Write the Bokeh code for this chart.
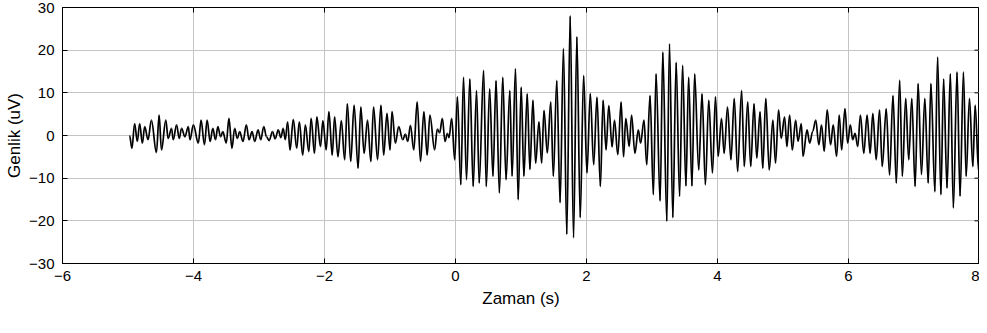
import numpy as np
from bokeh.plotting import figure
from bokeh.models import Range1d, FixedTicker, ColumnDataSource
from bokeh.embed import file_html
from bokeh.resources import INLINE

t_s = [
    -4.976, -4.940, -4.899, -4.858, -4.822, -4.781, -4.745, -4.694, -4.643, -4.566,
    -4.525, -4.489, -4.423, -4.387, -4.335, -4.310, -4.258, -4.218, -4.182, -4.131,
    -4.079, -4.054, -4.002,
    -3.926, -3.885, -3.833, -3.792, -3.746, -3.705, -3.664, -3.628, -3.587, -3.552,
    -3.500, -3.459, -3.413, -3.372, -3.331, -3.295, -3.244, -3.193, -3.152, -3.106,
    -3.065, -3.014, -2.973, -2.927, -2.886,
    -2.845, -2.794, -2.753, -2.706, -2.666, -2.630, -2.599, -2.563, -2.527, -2.476,
    -2.425, -2.384, -2.333, -2.292, -2.240, -2.204, -2.153, -2.117, -2.061, -2.025,
    -1.974, -1.933, -1.882, -1.846, -1.795,
    -1.743, -1.692, -1.651, -1.600, -1.548, -1.487, -1.446, -1.395, -1.343, -1.292,
    -1.251, -1.190, -1.138, -1.097, -1.046, -1.000, -0.969, -0.918, -0.867, -0.806,
    -0.765, -0.729,
    -0.688, -0.637, -0.585, -0.534, -0.483, -0.432, -0.391, -0.319, -0.278, -0.242,
    -0.201, -0.160, -0.124, -0.099, -0.058, -0.012,
    0.029, 0.081, 0.122, 0.168, 0.219, 0.270, 0.321, 0.362,
    0.429, 0.470, 0.521, 0.572, 0.619, 0.670, 0.721, 0.772, 0.829, 0.864,
    0.916, 0.957, 1.003, 1.044, 1.095, 1.136, 1.182, 1.223, 1.274, 1.315,
    1.351, 1.402, 1.454, 1.494,
    1.546, 1.597, 1.648, 1.699, 1.751, 1.802, 1.853, 1.904, 1.956, 2.007,
    2.058, 2.109, 2.160, 2.212, 2.253, 2.299, 2.340, 2.391, 2.427, 2.478,
    2.529, 2.565,
    2.600, 2.652, 2.688, 2.739, 2.791, 2.826, 2.878, 2.919, 2.970, 3.021,
    3.062, 3.124, 3.165, 3.226, 3.267, 3.318, 3.369, 3.421, 3.467, 3.518,
    3.559, 3.610, 3.651,
    3.713, 3.764, 3.815, 3.866, 3.923, 3.969, 4.010, 4.061, 4.102, 4.153,
    4.205, 4.256, 4.307, 4.368, 4.409, 4.461, 4.507, 4.558, 4.599, 4.650,
    4.691, 4.737, 4.790,
    4.845, 4.886, 4.932, 4.973, 5.024, 5.060, 5.101, 5.142, 5.193, 5.229,
    5.280, 5.306, 5.367, 5.408, 5.454, 5.500, 5.547, 5.588, 5.629, 5.675,
    5.726, 5.767, 5.818, 5.859,
    5.895, 5.946, 5.987, 6.028, 6.064, 6.100, 6.141, 6.182, 6.233, 6.284,
    6.330, 6.371, 6.423, 6.474, 6.515, 6.576, 6.627, 6.679, 6.730, 6.781,
    6.822, 6.873, 6.919,
    6.966, 7.017, 7.063, 7.114, 7.165, 7.217, 7.258, 7.319, 7.360, 7.411,
    7.452, 7.504, 7.555, 7.601, 7.657, 7.703, 7.755, 7.796, 7.847, 7.898,
    7.934, 7.985, 8.000,
]
amp_uv = [
    0.0, -3.0, 2.8, -1.4, 2.8, -1.8, 2.1, -1.0, 3.6, -4.0,
    4.8, -3.4, 3.6, -0.7, 1.7, -1.0, 2.5, -0.7, 1.7, -0.3,
    2.1, -1.0, 2.5,
    -1.8, 3.6, -2.2, 3.6, -1.4, 1.7, -1.0, 2.1, -0.3, 0.9,
    -1.8, 4.0, -3.0, 1.7, -0.7, 0.9, -1.4, 2.5, -1.0, 0.9,
    -1.4, 1.3, -1.0, 2.1, -0.3,
    -1.2, 0.9, -0.8, 1.3, -0.5, 1.7, -1.0, 3.2, -3.4, 3.8,
    -3.0, 3.2, -4.6, 2.5, -3.8, 4.0, -4.2, 4.4, -2.6, 3.5,
    -3.4, 5.6, -4.6, 4.4, -5.0,
    3.5, -5.7, 7.5, -6.1, 7.1, -7.7, 6.7, -4.2, 3.6, -6.1,
    6.7, -5.7, 7.1, -4.6, 5.2, -3.4, 5.6, -1.8, 2.1, -1.0,
    0.3, -1.4,
    2.4, -3.4, 7.9, -6.1, 5.6, -4.6, 4.8, -3.4, 1.5, 0.6,
    4.0, -1.4, 0.5, -0.5, 4.0, -5.7,
    9.1, -11.6, 13.7, -10.4, 13.3, -12.0, 10.6, -11.2,
    15.3, -12.0, 11.0, -9.6, 12.9, -13.5, 13.7, -10.4, 10.6, -9.6,
    15.7, -15.1, 11.4, -9.6, 9.8, -8.0, 8.3, -6.5, 3.2, -6.5,
    5.9, -4.1, 7.9, -9.6,
    12.9, -15.8, 20.4, -23.2, 28.1, -24.0, 23.2, -19.3, 14.1, -8.8,
    9.9, -6.9, 9.0, -12.0, 8.3, -3.4, 7.0, -2.7, 3.6, -4.5,
    7.9, -5.0,
    4.0, -2.6, 4.8, -4.2, 1.3, -1.8, 3.6, -6.9, 9.4, -13.9,
    14.5, -15.4, 19.6, -20.1, 21.5, -19.3, 17.2, -14.3, 16.5, -11.9,
    13.7, -11.9, 14.5,
    -8.1, 9.8, -11.6, 8.3, -8.8, 9.1, -4.9, 4.0, -4.2, 6.7,
    -5.7, 8.7, -8.5, 10.6, -7.3, 7.9, -7.3, 7.5, -5.3, 5.6,
    -7.7, 8.7, -8.1,
    3.6, -6.5, 6.0, -0.7, 4.4, -2.6, 4.8, -3.4, 3.6, -1.4,
    2.8, -4.9, 1.3, -1.8, 1.0, 3.6, -2.2, 2.5, -3.7, 6.0,
    -2.2, 2.5, -4.9, 4.8,
    -3.4, 6.3, -1.8, 2.5, -1.0, 0.5, -2.6, 4.8, -4.2, 4.8,
    -4.2, 5.2, -5.7, 6.0, -7.3, 6.3, -9.3, 9.4, -11.2, 13.0,
    -9.6, 8.7, -5.7,
    8.7, -12.0, 12.2, -9.2, 8.7, -11.2, 12.2, -13.2, 18.4, -13.9,
    13.3, -12.4, 14.5, -17.0, 14.9, -14.3, 14.9, -9.6, 8.7, -7.3,
    7.1, -8.1, -6.0,
]

x_ticks = [-6, -4, -2, 0, 2, 4, 6, 8]
y_ticks = [-30, -20, -10, 0, 10, 20, 30]
x_title = "Zaman (s)"
y_title = "Genlik (uV)"

FONT = "Liberation Sans"
X0, X1, Y0, Y1 = -6, 8, -30, 30

p = figure(width=979, height=310, output_backend="svg", toolbar_location=None,
           x_range=Range1d(X0, X1), y_range=Range1d(Y0, Y1),
           min_border_left=62, min_border_right=0, min_border_top=7, min_border_bottom=10)
p.background_fill_color = "white"
p.border_fill_color = "white"
p.outline_line_color = "black"
p.outline_line_width = 1

# smooth trace: cubic segments between successive extrema (horizontal tangents)
t = np.asarray(t_s, dtype=float)
a = np.asarray(amp_uv, dtype=float)
dt = np.diff(t)
src = ColumnDataSource(dict(
    x0=t[:-1], y0=a[:-1], x1=t[1:], y1=a[1:],
    cx0=t[:-1] + 0.36 * dt, cy0=a[:-1],
    cx1=t[1:] - 0.36 * dt, cy1=a[1:],
))
p.bezier(x0="x0", y0="y0", x1="x1", y1="y1", cx0="cx0", cy0="cy0", cx1="cx1", cy1="cy1",
         source=src, line_color="black", line_width=1.7)

for ax, ticks in ((p.xaxis[0], x_ticks), (p.yaxis[0], y_ticks)):
    ax.ticker = FixedTicker(ticks=ticks)
    ax.major_tick_in = 5
    ax.major_tick_out = 0
    ax.minor_tick_line_color = None
    ax.axis_line_color = "black"
    ax.major_tick_line_color = "black"
    ax.major_label_text_font = FONT
    ax.major_label_text_font_size = "15px"
    ax.major_label_text_color = "black"
    ax.axis_label_text_font = FONT
    ax.axis_label_text_font_size = "17px"
    ax.axis_label_text_font_style = "normal"
    ax.axis_label_text_color = "black"

p.xaxis[0].axis_label = x_title
p.yaxis[0].axis_label = y_title
p.xaxis[0].major_label_standoff = 7
p.xaxis[0].axis_label_standoff = 5
p.yaxis[0].major_label_standoff = 8
p.yaxis[0].axis_label_standoff = 2

# mirrored inward ticks on the top and right edges of the frame
tick_dx = (X1 - X0) * 5 / 911.0
tick_dy = (Y1 - Y0) * 5 / 257.0
p.segment(x0=[X1] * len(y_ticks), y0=y_ticks, x1=[X1 - tick_dx] * len(y_ticks), y1=y_ticks,
          line_color="black", line_width=1)
p.segment(x0=x_ticks, y0=[Y1] * len(x_ticks), x1=x_ticks, y1=[Y1 - tick_dy] * len(x_ticks),
          line_color="black", line_width=1)

p.xgrid.ticker = FixedTicker(ticks=x_ticks)
p.ygrid.ticker = FixedTicker(ticks=y_ticks)
p.grid.grid_line_color = "#c4c4c4"
p.grid.grid_line_width = 1

open("out.html", "w").write(file_html(p, INLINE))
